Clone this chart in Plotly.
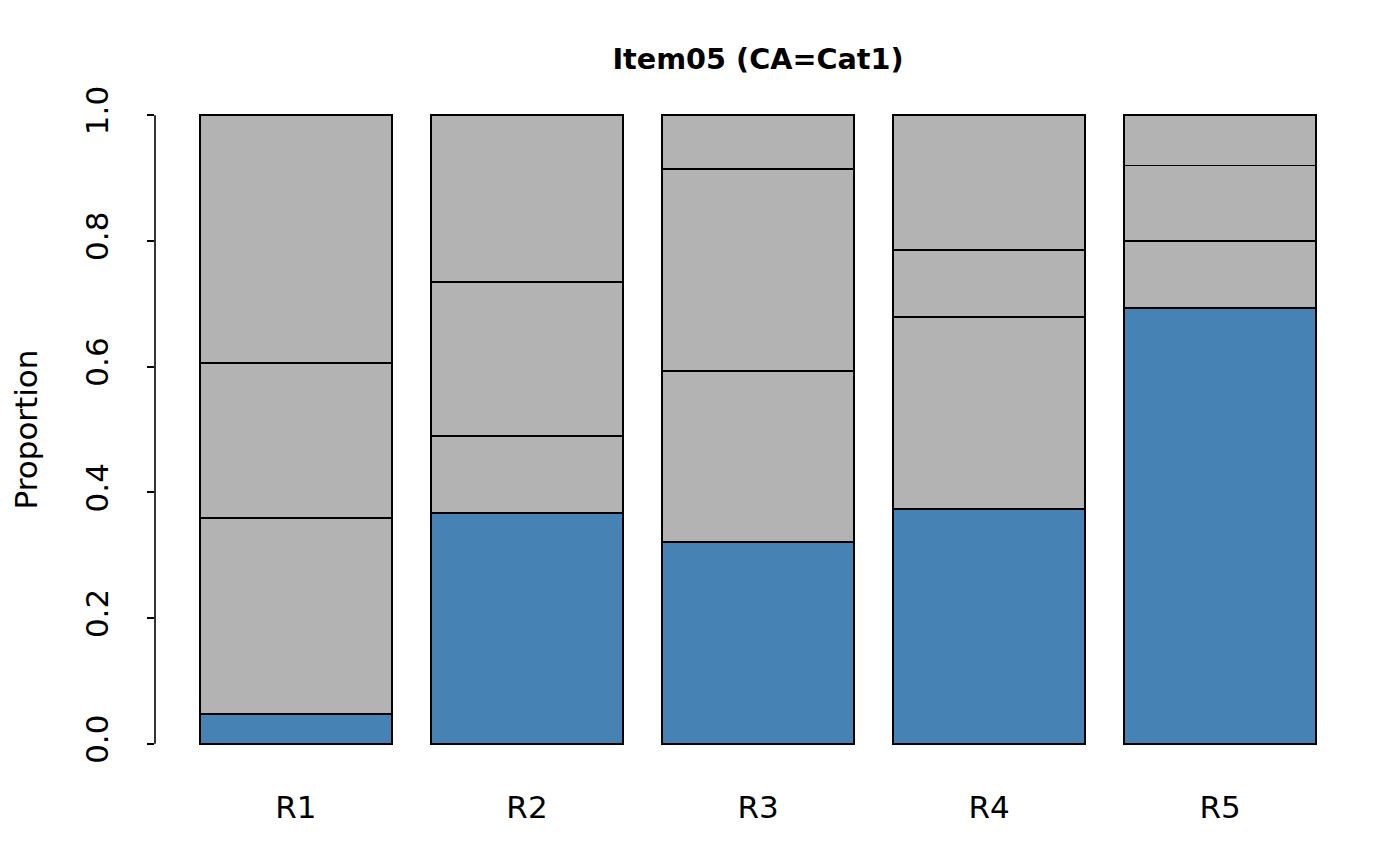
import plotly.graph_objects as go

categories = ["R1", "R2", "R3", "R4", "R5"]
cat1 = [0.048, 0.367, 0.321, 0.374, 0.693]
seg2 = [0.311, 0.123, 0.272, 0.305, 0.107]
seg3 = [0.247, 0.244, 0.321, 0.106, 0.120]
seg4 = [0.394, 0.266, 0.086, 0.215, 0.080]
segments = [("Cat1", cat1, "#4682B4"), ("Seg2", seg2, "#B3B3B3"),
            ("Seg3", seg3, "#B3B3B3"), ("Seg4", seg4, "#B3B3B3")]
ytick_vals = [0.0, 0.2, 0.4, 0.6, 0.8, 1.0]
ytick_text = ["0.0", "0.2", "0.4", "0.6", "0.8", "1.0"]

FONT = "DejaVu Sans"

fig = go.Figure()
for name, vals, col in segments:
    fig.add_trace(go.Bar(x=categories, y=vals, name=name,
                         marker=dict(color=col, line=dict(color="black", width=1.8))))

W, H = 1400, 866
PW, PH = 1208, 679
L, T = 145, 82
R, B = W - L - PW, H - T - PH

fig.update_layout(
    width=W, height=H, barmode="stack", bargap=1/6,
    showlegend=False,
    plot_bgcolor="white", paper_bgcolor="white",
    margin=dict(l=L, r=R, t=T, b=B, pad=0),
    font=dict(family=FONT, color="black", size=31),
    title=dict(text="<b>Item05 (CA=Cat1)</b>", x=0.5, xref="paper",
               y=1 - 51 / H, yref="container", yanchor="middle", xanchor="center",
               font=dict(family=FONT, size=28.7, color="black")),
    xaxis=dict(range=[-0.61, 4.61], showline=False, ticks="", showgrid=False,
               zeroline=False, tickfont=dict(size=31), ticklabelstandoff=17),
    yaxis=dict(range=[-0.04, 1.04], tickvals=ytick_vals, ticktext=ytick_text,
               tickangle=-90, ticks="outside", ticklen=7, tickwidth=1.6,
               tickcolor="black", showline=False, showgrid=False, zeroline=False,
               tickfont=dict(size=31), ticklabelstandoff=27,
               title=dict(text="Proportion", font=dict(size=31), standoff=37)),
)
# y-axis line spanning 0..1 as in R's axis()
fig.add_shape(type="line", xref="paper", yref="y", x0=0, x1=0,
              y0=ytick_vals[0], y1=ytick_vals[-1],
              line=dict(color="black", width=1.6))

fig.write_html("out.html")
